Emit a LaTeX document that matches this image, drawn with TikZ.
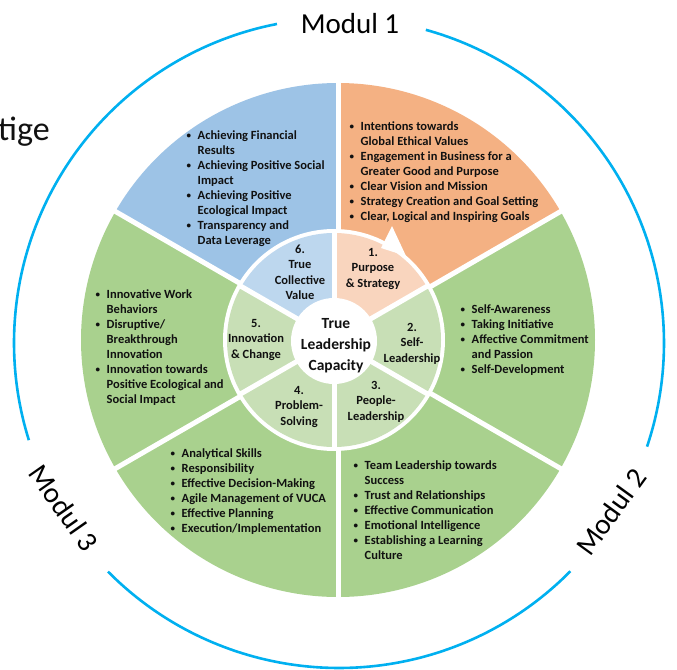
\documentclass[tikz,border=0pt]{standalone}
\usepackage{fontspec}
\setmainfont{Carlito}
\definecolor{outBlue}{HTML}{9DC3E6}
\definecolor{outOrange}{HTML}{F4B183}
\definecolor{outGreen}{HTML}{A9D18E}
\definecolor{inBlue}{HTML}{BDD7EE}
\definecolor{inOrange}{HTML}{F9D5BE}
\definecolor{inGreen}{HTML}{C8DFB6}
\definecolor{arcBlue}{HTML}{00B0F0}
\definecolor{txt}{HTML}{111111}
\newcommand{\bu}{\makebox[11.5pt][l]{\hspace*{0.5pt}\raisebox{0.6pt}{\scalebox{0.72}{•}}}}
\newcommand{\ind}{\hspace*{11.5pt}}
\newcommand{\blst}[1]{\begin{tabular}[t]{@{}l@{}}#1\end{tabular}}
\newcommand{\clst}[1]{\begin{tabular}[t]{@{}c@{}}#1\end{tabular}}
\tikzset{
  bulletlist/.style={anchor=base west, inner sep=0pt, text=txt,
    font=\fontsize{12.5}{15}\selectfont\bfseries},
  ringlabel/.style={anchor=base, inner sep=0pt, text=txt,
    font=\fontsize{12.5}{15.5}\selectfont\bfseries},
  corelabel/.style={anchor=base, inner sep=0pt, text=txt,
    font=\fontsize{15.5}{21}\selectfont\bfseries},
  modullabel/.style={inner sep=0pt, text=black, font=\fontsize{29}{32}\selectfont},
  modularc/.style={draw=arcBlue, line width=2.6pt},
  divider/.style={draw=white, line width=5pt}
}
\begin{document}
\begin{tikzpicture}[x=1pt,y=-1pt]
\useasboundingbox (0,0) rectangle (677,669);
\fill[white] (0,0) rectangle (677,669);
\coordinate (O) at (338,340);
\coordinate (I) at (334,340);
\coordinate (A) at (339,343);
% outer sectors
\foreach \a/\c in {-90/outOrange,-30/outGreen,30/outGreen,90/outGreen,150/outGreen,210/outBlue}
  \fill[\c] (O) -- ++(\a:257) arc[start angle=\a, end angle=\a+60, radius=257] -- cycle;
\foreach \a in {-90,-30,30,90,150,210}
  \draw[divider] (O) -- ++(\a:262);
% gap ring
\fill[white] (I) circle[radius=111];
% inner ring
\foreach \a/\c in {-90/inOrange,-30/inGreen,30/inGreen,90/inGreen,150/inGreen,210/inBlue}
  \fill[\c] (I) -- ++(\a:107) arc[start angle=\a, end angle=\a+60, radius=107] -- cycle;
\foreach \a in {-90,-30,30,90,150,210}
  \draw[divider] (I) -- ++(\a:108);
\fill[white] (334,341) circle[radius=43];
% arrow head
\fill[white] (381,248) -- (392,226) -- (406,256) -- cycle;
% modul arcs
\draw[modularc] (A) ++(-101:325) arc[start angle=-101, end angle=-197.4, radius=325];
\draw[modularc] (A) ++(-224.7:325) arc[start angle=-224.7, end angle=-315.4, radius=325];
\draw[modularc] (A) ++(18.6:325) arc[start angle=18.6, end angle=-74.5, radius=325];
\node[modullabel] (m1) at (350,24) {Modul 1};
\node[modullabel, rotate=54] (m2) at (611,512) {Modul 2};
\node[modullabel, rotate=-55] (m3) at (64,508) {Modul 3};
\node[anchor=base west, inner sep=0pt, text=txt, font=\fontsize{34}{38}\selectfont] (tg) at (-2,140) {tige};
% bullet lists
\node[bulletlist] (b1) at (349,130) {\blst{%
\bu Intentions towards\\
\ind Global Ethical Values\\
\bu Engagement in Business for a\\
\ind Greater Good and Purpose\\
\bu Clear Vision and Mission\\
\bu Strategy Creation and Goal Setting\\
\bu Clear, Logical and Inspiring Goals}};
\node[bulletlist] (b6) at (186,139) {\blst{%
\bu Achieving Financial\\
\ind Results\\
\bu Achieving Positive Social\\
\ind Impact\\
\bu Achieving Positive\\
\ind Ecological Impact\\
\bu Transparency and\\
\ind Data Leverage}};
\node[bulletlist] (b5) at (95,298) {\blst{%
\bu Innovative Work\\
\ind Behaviors\\
\bu Disruptive/\\
\ind Breakthrough\\
\ind Innovation\\
\bu Innovation towards\\
\ind Positive Ecological and\\
\ind Social Impact}};
\node[bulletlist] (b2) at (460,313) {\blst{%
\bu Self-Awareness\\
\bu Taking Initiative\\
\bu Affective Commitment\\
\ind and Passion\\
\bu Self-Development}};
\node[bulletlist] (b4) at (170,457) {\blst{%
\bu Analytical Skills\\
\bu Responsibility\\
\bu Effective Decision-Making\\
\bu Agile Management of VUCA\\
\bu Effective Planning\\
\bu Execution/Implementation}};
\node[bulletlist] (b3) at (353,469) {\blst{%
\bu Team Leadership towards\\
\ind Success\\
\bu Trust and Relationships\\
\bu Effective Communication\\
\bu Emotional Intelligence\\
\bu Establishing a Learning\\
\ind Culture}};
% ring labels
\node[ringlabel] (r6) at (300,253) {\clst{6.\\True\\Collective\\Value}};
\node[ringlabel] (r1) at (373,256) {\clst{1.\\Purpose\\\& Strategy}};
\node[ringlabel] (r2) at (412,331) {\clst{2.\\Self-\\Leadership}};
\node[ringlabel] (r3) at (376,389) {\clst{3.\\People-\\Leadership}};
\node[ringlabel] (r4) at (299,394) {\clst{4.\\Problem-\\Solving}};
\node[ringlabel] (r5) at (256,327) {\clst{5.\\Innovation\\\& Change}};
\node[corelabel] (core) at (336,328) {\clst{True\\Leadership\\Capacity}};
\end{tikzpicture}
\end{document}
